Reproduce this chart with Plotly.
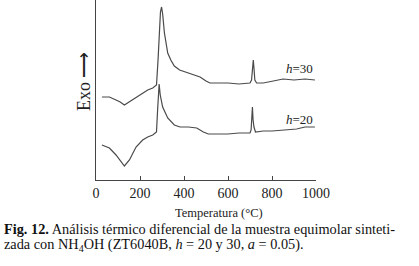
import plotly.graph_objects as go

# Temperature (°C) and DTA signal (arbitrary units)
temp_h30 = [27, 61, 91, 110, 129, 150, 167, 190, 212, 235, 258, 275, 282, 287, 293, 298, 303, 311,
            326, 340, 356, 380, 405, 427, 450, 473, 500, 518, 560, 600, 650, 700, 707, 712, 715,
            718, 722, 730, 760, 806, 850, 900, 950, 995]
sig_h30 = [83, 83, 80, 78, 75, 78, 80, 84, 87, 90, 92, 95, 120, 150, 168, 173, 166, 147,
           127, 120, 114, 110, 108, 107, 105, 103, 99, 97, 97, 97, 96, 97, 100, 118, 120,
           112, 100, 97, 97, 99, 101, 100, 101, 100]

temp_h20 = [27, 61, 91, 110, 129, 152, 182, 212, 235, 258, 275, 280, 284, 287, 292, 303, 326,
            356, 382, 420, 458, 488, 511, 560, 600, 650, 700, 705, 709, 711, 714, 718, 725,
            760, 800, 850, 912, 950, 995]
sig_h20 = [35, 32, 25, 19, 14, 20, 33, 40, 43, 45, 48, 70, 92, 96, 85, 73, 62,
           55, 53, 53, 52, 48, 46, 46, 46, 47, 47, 50, 72, 73, 60, 53, 48,
           49, 49, 50, 51, 53, 53]

x_ticks = [0, 200, 400, 600, 800, 1000]

LINE = "#4a4a4a"
SERIF = "Liberation Serif"

fig = go.Figure()
fig.add_trace(go.Scatter(x=temp_h30, y=sig_h30, mode="lines",
                         line=dict(color=LINE, width=1.2), showlegend=False))
fig.add_trace(go.Scatter(x=temp_h20, y=sig_h20, mode="lines",
                         line=dict(color=LINE, width=1.2), showlegend=False))

fig.update_layout(
    width=419, height=266,
    margin=dict(l=96, r=103, t=0, b=86),
    paper_bgcolor="white", plot_bgcolor="white",
    font=dict(family=SERIF, color="#222", size=14),
    xaxis=dict(range=[0, 1000], tickvals=x_ticks, ticks="inside", ticklen=4,
               tickcolor="#444", showline=True, linecolor="#444", linewidth=1,
               showgrid=False, zeroline=False,
               tickfont=dict(family=SERIF, size=14, color="#222")),
    yaxis=dict(range=[0, 180], showticklabels=False, ticks="", showline=True,
               linecolor="#444", linewidth=1, showgrid=False, zeroline=False),
)

ann = [
    dict(x=927, y=112, xref="x", yref="y", text="<i>h</i>=30", showarrow=False,
         xanchor="center", yanchor="middle",
         font=dict(family=SERIF, size=13, color="#222")),
    dict(x=927, y=61, xref="x", yref="y", text="<i>h</i>=20", showarrow=False,
         xanchor="center", yanchor="middle",
         font=dict(family=SERIF, size=13, color="#222")),
    dict(x=(84 - 96) / 220, y=(180 - 81) / 180, xref="paper", yref="paper",
         text="Exo ⟶", textangle=-90, showarrow=False,
         xanchor="center", yanchor="middle",
         font=dict(family=SERIF, size=18, color="#222")),
    dict(x=560, y=(180 - 213) / 180, xref="x", yref="paper",
         text="Temperatura (°C)", showarrow=False,
         xanchor="center", yanchor="middle",
         font=dict(family=SERIF, size=12.5, color="#222")),
    dict(x=(2 - 96) / 220, y=(180 - 229) / 180, xref="paper", yref="paper",
         xanchor="left", yanchor="middle",
         text="<b>Fig. 12.</b> Análisis térmico diferencial de la muestra equimolar sinteti-",
         showarrow=False, font=dict(family=SERIF, size=14.3, color="#111")),
    dict(x=(2 - 96) / 220, y=(180 - 245) / 180, xref="paper", yref="paper",
         xanchor="left", yanchor="middle",
         text="zada con NH<sub>4</sub>OH (ZT6040B, <i>h</i> = 20 y 30, <i>a</i> = 0.05).",
         showarrow=False, font=dict(family=SERIF, size=14.3, color="#111")),
]
fig.update_layout(annotations=ann)

fig.write_html("out.html", config={"displayModeBar": False},
               post_script="document.body.style.margin='0';")
